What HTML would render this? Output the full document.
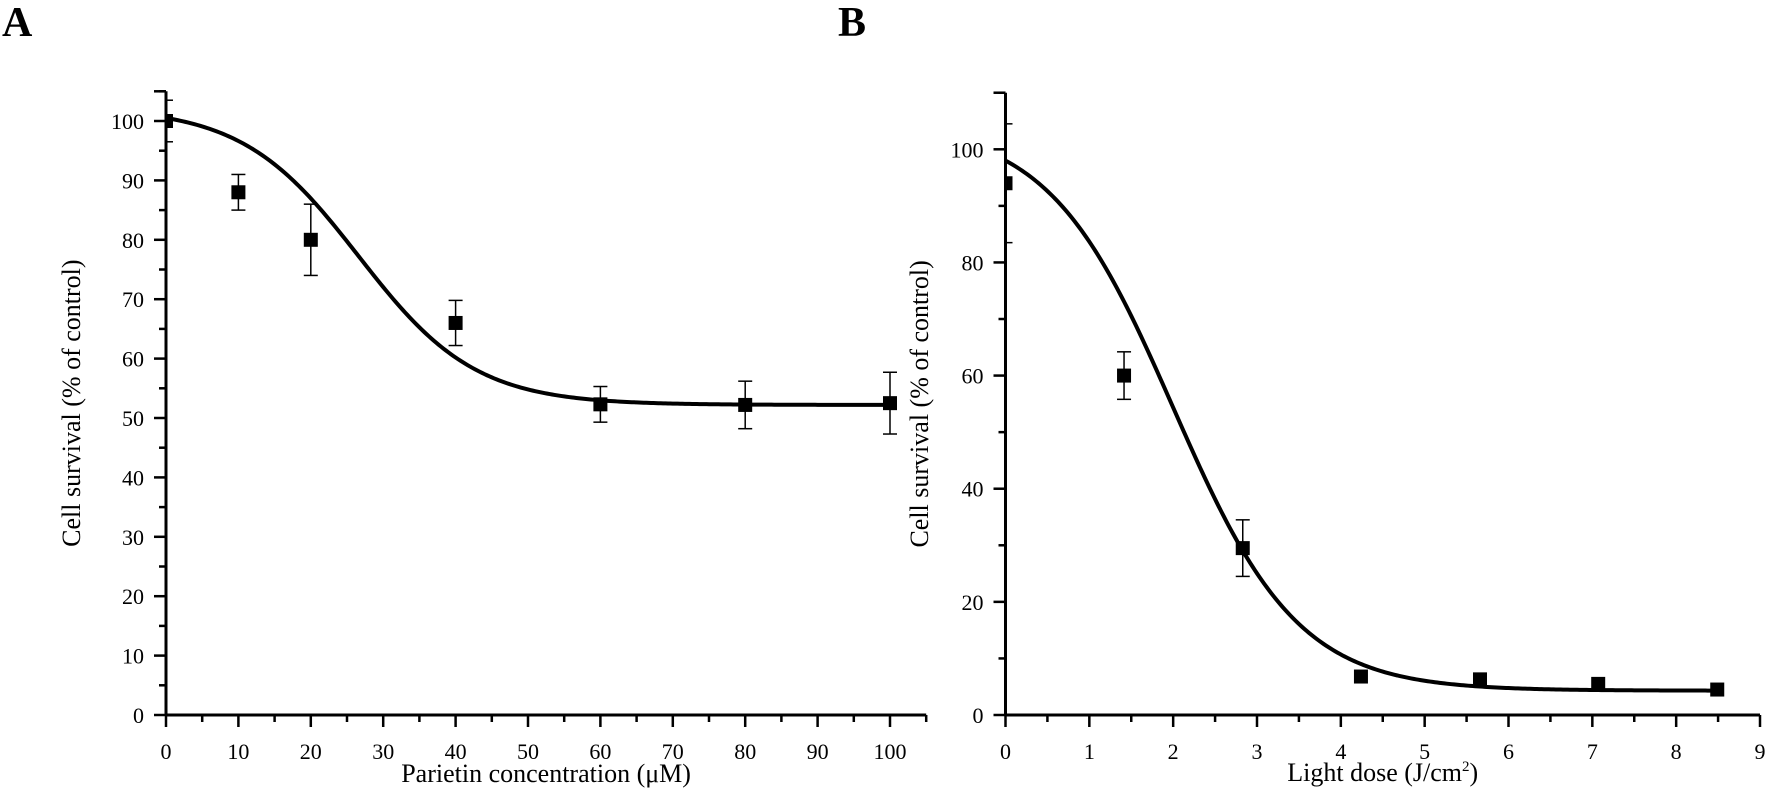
<!DOCTYPE html>
<html><head><meta charset="utf-8"><style>
html,body{margin:0;padding:0;background:#fff;}
svg{display:block;font-family:"Liberation Serif",serif;}
</style></head><body>
<svg id="fig" width="1773" height="812" viewBox="0 0 1773 812">
<text x="2" y="36" font-size="42" font-weight="bold">A</text>
<text x="838" y="36" font-size="42" font-weight="bold">B</text>
<g id="pa"></g>
<g id="pb"></g>
</svg>
<script>
// Panel A data
const aX = [0, 10, 20, 40, 60, 80, 100];
const aY = [100, 88, 80, 66, 52.3, 52.2, 52.5];
const aErr = [3.5, 3, 6, 3.8, 3, 4, 5.2];
const aXTicks = [0,10,20,30,40,50,60,70,80,90,100];
const aYTicks = [0,10,20,30,40,50,60,70,80,90,100];
const aFit = {A1:102.3, A2:52.2, x0:26.6, dx:8.06};
// Panel B data
const bX = [0, 1.414, 2.83, 4.24, 5.66, 7.07, 8.49];
const bY = [94, 60, 29.5, 6.8, 6.3, 5.5, 4.5];
const bErr = [10.5, 4.2, 5, 0, 0, 0, 0];
const bXTicks = [0,1,2,3,4,5,6,7,8,9];
const bYTicks = [0,20,40,60,80,100];
const bFit = {A1:104.4, A2:4.3, x0:2.0, dx:0.745};

const NS="http://www.w3.org/2000/svg";
function mk(parent,tag,attrs,name){const e=document.createElementNS(NS,tag);for(const k in attrs)e.setAttribute(k,attrs[k]);


parent.appendChild(e);return e;}

function panel(g,cfg){
  const sx=v=>cfg.x0+(v-cfg.xmin)/(cfg.xmax-cfg.xmin)*(cfg.x1-cfg.x0);
  const sy=v=>cfg.y0-(v-cfg.ymin)/(cfg.ymax-cfg.ymin)*(cfg.y0-cfg.y1);
  const L=cfg.xlim, T=cfg.ylim;
  const clipId=cfg.id+'clip';
  const defs=mk(g,'defs',{},'defs');
  const cp=mk(defs,'clipPath',{id:clipId},'clip-path');
  mk(cp,'rect',{x:sx(0),y:0,width:sx(L)-sx(0)+10,height:sy(0)},'clip-rect');
  mk(g,'line',{x1:sx(0),y1:sy(0),x2:sx(L),y2:sy(0),stroke:'#000','stroke-width':3},'x-axis');
  mk(g,'line',{x1:sx(0),y1:sy(0),x2:sx(0),y2:sy(T),stroke:'#000','stroke-width':3},'y-axis');
  for(let i=0;i<cfg.xt.length;i++){const v=cfg.xt[i];
    mk(g,'line',{x1:sx(v),y1:sy(0),x2:sx(v),y2:sy(0)+12,stroke:'#000','stroke-width':2.5},'x-tick');
    const t=mk(g,'text',{x:sx(v),y:sy(0)+44,'font-size':22,'text-anchor':'middle'},'x-tick-label');t.textContent=v;
    if(i<cfg.xt.length-1){const m=(v+cfg.xt[i+1])/2;mk(g,'line',{x1:sx(m),y1:sy(0),x2:sx(m),y2:sy(0)+7,stroke:'#000','stroke-width':2.5},'x-minor-tick');}
  }
  if(cfg.xt[cfg.xt.length-1]<L){const m=cfg.xt[cfg.xt.length-1]+cfg.xstep/2;mk(g,'line',{x1:sx(m),y1:sy(0),x2:sx(m),y2:sy(0)+7,stroke:'#000','stroke-width':2.5},'x-minor-tick');}
  for(let i=0;i<cfg.yt.length;i++){const v=cfg.yt[i];
    mk(g,'line',{x1:sx(0)-12,y1:sy(v),x2:sx(0),y2:sy(v),stroke:'#000','stroke-width':2.5},'y-tick');
    const t=mk(g,'text',{x:sx(0)-22,y:sy(v)+8,'font-size':22,'text-anchor':'end'},'y-tick-label');t.textContent=v;
    const m=v+cfg.ystep/2; if(m<=T){mk(g,'line',{x1:sx(0)-7,y1:sy(m),x2:sx(0),y2:sy(m),stroke:'#000','stroke-width':2.5},'y-minor-tick');}
  }
  mk(g,'line',{x1:sx(0)-12,y1:sy(T),x2:sx(0),y2:sy(T),stroke:'#000','stroke-width':2.5},'y-tick');
  const xt=mk(g,'text',{x:(sx(0)+sx(L))/2,y:cfg.xty,'font-size':26,'text-anchor':'middle'},'x-axis-title');xt.innerHTML=cfg.xtitle;
  const yt=mk(g,'text',{x:0,y:0,'font-size':26,'text-anchor':'middle',transform:`translate(${cfg.ytx},${(sy(0)+sy(T))/2}) rotate(-90)`},'y-axis-title');yt.textContent='Cell survival (% of control)';
  const f=cfg.fit; let d='';
  for(let i=0;i<=300;i++){const x=cfg.xd[cfg.xd.length-1]*i/300;const y=f.A2+(f.A1-f.A2)/(1+Math.exp((x-f.x0)/f.dx));d+=(i?'L':'M')+sx(x).toFixed(2)+','+sy(y).toFixed(2);}
  const dg=mk(g,'g',{'clip-path':`url(#${clipId})`},'data-layer');
  mk(dg,'path',{d:d,fill:'none',stroke:'#000','stroke-width':4},'fit-curve');
  for(let i=0;i<cfg.xd.length;i++){const cx=sx(cfg.xd[i]),cy=sy(cfg.yd[i]),e=cfg.ed[i];
    if(e>0){const top=sy(cfg.yd[i]+e),bot=sy(cfg.yd[i]-e);
      mk(dg,'line',{x1:cx,y1:top,x2:cx,y2:bot,stroke:'#000','stroke-width':1.5},'error-bar');
      mk(dg,'line',{x1:cx-7,y1:top,x2:cx+7,y2:top,stroke:'#000','stroke-width':1.5},'error-cap');
      mk(dg,'line',{x1:cx-7,y1:bot,x2:cx+7,y2:bot,stroke:'#000','stroke-width':1.5},'error-cap');}
    mk(dg,'rect',{x:cx-7,y:cy-7,width:14,height:14,fill:'#000'},'data-point');
  }
}
panel(document.getElementById('pa'),{id:'a',x0:166,x1:890,xmin:0,xmax:100,y0:715,y1:121,ymin:0,ymax:100,xlim:105,ylim:105,
  xt:aXTicks,yt:aYTicks,xstep:10,ystep:10,xd:aX,yd:aY,ed:aErr,fit:aFit,xtitle:'Parietin concentration (μM)',xty:782,ytx:80});
panel(document.getElementById('pb'),{id:'b',x0:1005.5,x1:1760,xmin:0,xmax:9,y0:715,y1:149.3,ymin:0,ymax:100,xlim:9,ylim:110,
  xt:bXTicks,yt:bYTicks,xstep:1,ystep:20,xd:bX,yd:bY,ed:bErr,fit:bFit,xtitle:'Light dose (J/cm<tspan dy="-10" font-size="15">2</tspan><tspan dy="10">)</tspan>',xty:781,ytx:928});
</script>
</body></html>
